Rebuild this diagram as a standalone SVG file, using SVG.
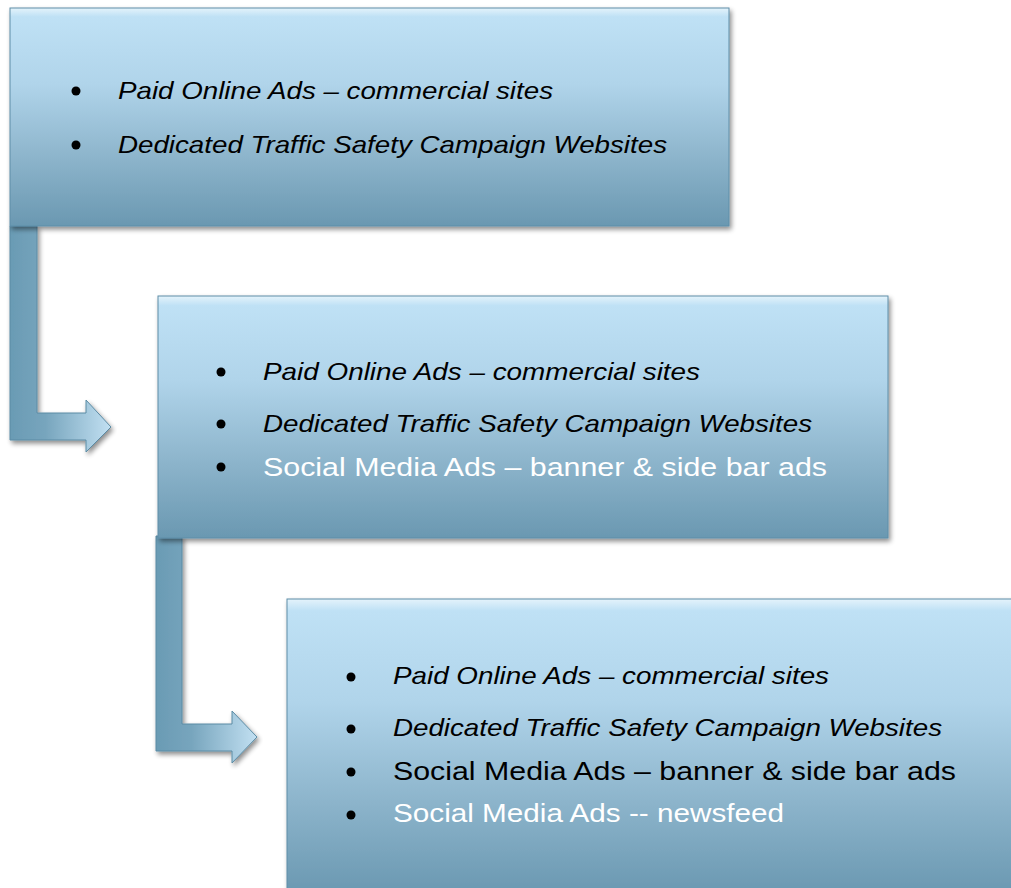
<svg xmlns="http://www.w3.org/2000/svg" width="1011" height="888" viewBox="0 0 1011 888">
<defs>
<linearGradient id="boxg" x1="0" y1="0" x2="0" y2="1">
<stop offset="0" stop-color="#e4f3fb"/>
<stop offset="0.04" stop-color="#bfe1f5"/>
<stop offset="0.35" stop-color="#b0d4ea"/>
<stop offset="0.7" stop-color="#8bb3ca"/>
<stop offset="1" stop-color="#6a98b1"/>
</linearGradient>
<linearGradient id="arrg" x1="0" y1="0" x2="1" y2="0">
<stop offset="0" stop-color="#6a9bb4"/>
<stop offset="0.35" stop-color="#77a5bd"/>
<stop offset="1" stop-color="#c2e0f2"/>
</linearGradient>
<filter id="sh" x="-5%" y="-5%" width="110%" height="115%">
<feGaussianBlur in="SourceAlpha" stdDeviation="2.5"/>
<feOffset dx="2" dy="3" result="b"/>
<feComponentTransfer><feFuncA type="linear" slope="0.45"/></feComponentTransfer>
<feMerge><feMergeNode/><feMergeNode in="SourceGraphic"/></feMerge>
</filter>
</defs>
<style>
.box{fill:url(#boxg);stroke:#5f8ea8;stroke-width:1}
.arr{fill:url(#arrg);stroke:#5b8ba4;stroke-width:1}
.it{font-family:"Liberation Sans",Arial,sans-serif;font-style:italic;font-size:24px;fill:#000}
.up{font-family:"Liberation Sans",Arial,sans-serif;font-size:26px}
.w{fill:#ffffff}
.k{fill:#000}
.bul{fill:#000}
</style>
<g id="connectors">
<path class="arr" filter="url(#sh)" d="M10,226 L37,226 L37,413 L86,413 L86,400 L111,427 L86,452 L86,440 L10,440 Z"/>
<path class="arr" filter="url(#sh)" d="M156,536 L182,536 L182,724 L232,724 L232,711 L257,737 L232,763 L232,751 L156,751 Z"/>
</g>
<g id="box1">
<rect class="box" filter="url(#sh)" x="10" y="8" width="719" height="218"/>
<circle class="bul" cx="76" cy="91" r="4.5"/>
<circle class="bul" cx="76" cy="145" r="4.5"/>
<text class="it" x="118" y="99" textLength="435" lengthAdjust="spacingAndGlyphs">Paid Online Ads – commercial sites</text>
<text class="it" x="118" y="153" textLength="549" lengthAdjust="spacingAndGlyphs">Dedicated Traffic Safety Campaign Websites</text>
</g>
<g id="box2">
<rect class="box" filter="url(#sh)" x="158" y="296" width="730" height="242"/>
<circle class="bul" cx="221" cy="372" r="4.5"/>
<circle class="bul" cx="221" cy="424" r="4.5"/>
<circle class="bul" cx="221" cy="467" r="4.5"/>
<text class="it" x="263" y="380" textLength="437" lengthAdjust="spacingAndGlyphs">Paid Online Ads – commercial sites</text>
<text class="it" x="263" y="432" textLength="549" lengthAdjust="spacingAndGlyphs">Dedicated Traffic Safety Campaign Websites</text>
<text class="up w" x="263" y="476" textLength="564" lengthAdjust="spacingAndGlyphs">Social Media Ads – banner &amp; side bar ads</text>
</g>
<g id="box3">
<rect class="box" filter="url(#sh)" x="287" y="599" width="730" height="295"/>
<circle class="bul" cx="351" cy="677" r="4.5"/>
<circle class="bul" cx="351" cy="729" r="4.5"/>
<circle class="bul" cx="351" cy="772" r="4.5"/>
<circle class="bul" cx="351" cy="815" r="4.5"/>
<text class="it" x="393" y="684" textLength="436" lengthAdjust="spacingAndGlyphs">Paid Online Ads – commercial sites</text>
<text class="it" x="393" y="736" textLength="549" lengthAdjust="spacingAndGlyphs">Dedicated Traffic Safety Campaign Websites</text>
<text class="up k" x="393" y="780" textLength="563" lengthAdjust="spacingAndGlyphs">Social Media Ads – banner &amp; side bar ads</text>
<text class="up w" x="393" y="822" textLength="391" lengthAdjust="spacingAndGlyphs">Social Media Ads -- newsfeed</text>
</g>
</svg>
